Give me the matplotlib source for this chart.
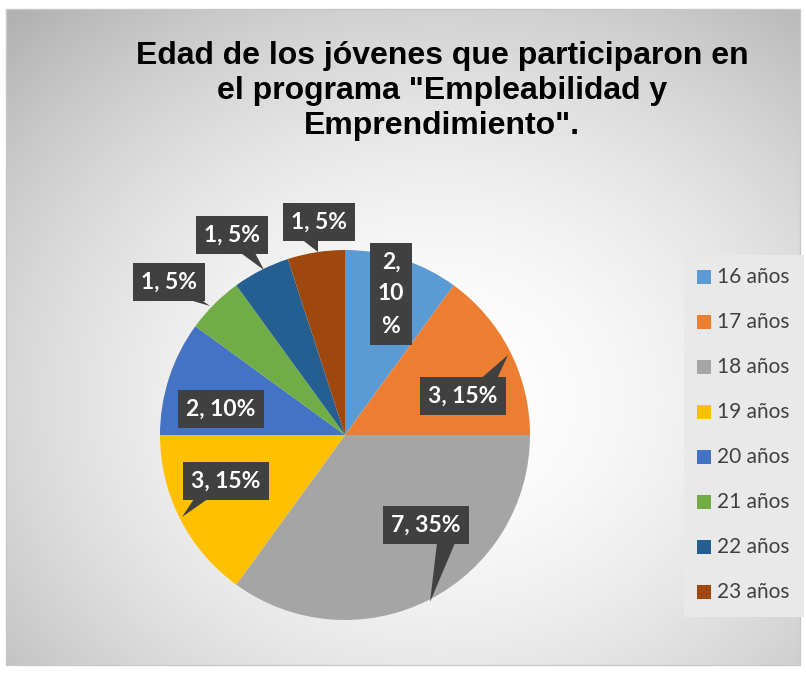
import numpy as np
import matplotlib
matplotlib.use("Agg")
import matplotlib.pyplot as plt
from matplotlib.patches import Rectangle, Polygon

categories = ["16 años", "17 años", "18 años", "19 años", "20 años", "21 años", "22 años", "23 años"]
values = [2, 3, 7, 3, 2, 1, 1, 1]
colors = ["#5B9BD5", "#ED7D31", "#A5A5A5", "#FFC000", "#4472C4", "#70AD47", "#255E91", "#9E480E"]
title = 'Edad de los jóvenes que participaron en\nel programa "Empleabilidad y\nEmprendimiento".'

W, H = 806, 674
fig = plt.figure(figsize=(W / 100, H / 100), dpi=100)
ax = fig.add_axes([0, 0, 1, 1])
ax.set_xlim(0, W)
ax.set_ylim(0, H)
ax.axis("off")

def Y(y):
    return H - y

# background radial gradient inside chart border
x0, x1, y0, y1 = 6, 800, 9, 665
xx, yy = np.meshgrid(np.linspace(x0, x1, 400), np.linspace(y0, y1, 330))
cx, cy = 440, 400
d = np.sqrt(((xx - cx) / 520) ** 2 + ((yy - cy) / 440) ** 2)
g = 1.0 - 0.22 * np.clip(d, 0, 1.2) ** 1.8
img = np.dstack([g, g, g])
ax.imshow(img, extent=(x0, x1, Y(y1), Y(y0)), origin="upper", zorder=0, aspect="auto")
ax.add_patch(Rectangle((x0, Y(y1)), x1 - x0, y1 - y0, fill=False, edgecolor="#c8c8c8", lw=1, zorder=1))

# legend panel
ax.add_patch(Rectangle((684, Y(617)), 120, 362, facecolor="#e9e9e9", edgecolor="none", zorder=1))

# pie
ax.pie(values, colors=colors, startangle=90, counterclock=False, center=(345, Y(435)),
       radius=185, frame=True, wedgeprops=dict(linewidth=0), normalize=True)
ax.set_xlim(0, W)
ax.set_ylim(0, H)
ax.set_aspect("auto")
ax.axis("off")

# title
ax.text(442, Y(91), title, ha="center", va="center", fontsize=23, fontweight="bold",
        family="Liberation Sans", color="#000000", linespacing=1.22, zorder=5)

# data labels
total = sum(values)
lbl_font = dict(family="Lato", fontweight="bold", fontsize=16.5, color="white")
box = "#404040"
label_pos = [(391, 294), (463, 396), (426, 525), (226, 481), (221, 409), (169, 282), (232, 235), (319, 222)]
pointers = [None,
            [(478, 381), (496, 381), (508, 355)],
            [(437, 543), (455, 543), (430, 602)],
            [(196, 496), (212, 496), (182, 517)],
            None,
            [(186, 299), (200, 299), (210, 306)],
            [(238, 251), (254, 251), (264, 270)],
            [(300, 238), (318, 238), (318, 252)]]
for i, v in enumerate(values):
    pct = round(v / total * 100)
    txt = f"{v},\n{pct}\n%" if i == 0 else f"{v}, {pct}%"
    x, y = label_pos[i]
    if pointers[i] is not None:
        ax.add_patch(Polygon([(px, Y(py)) for px, py in pointers[i]], closed=True,
                             facecolor=box, edgecolor="none", zorder=6))
    ax.text(x, Y(y), txt, ha="center", va="center", linespacing=1.65 if i == 0 else 1.0,
            bbox=dict(boxstyle="square,pad=0.35", facecolor=box, edgecolor="none"),
            zorder=7, **lbl_font)

# legend
for i, (c, col) in enumerate(zip(categories, colors)):
    yy_ = 277 + i * 45
    ax.add_patch(Rectangle((697, Y(yy_) - 7), 14, 14, facecolor=col, edgecolor="none", zorder=5))
    ax.text(717, Y(yy_), c, ha="left", va="center", fontsize=15, family="Lato",
            color="#404040", zorder=5)

fig.savefig("out.png", dpi=100)
